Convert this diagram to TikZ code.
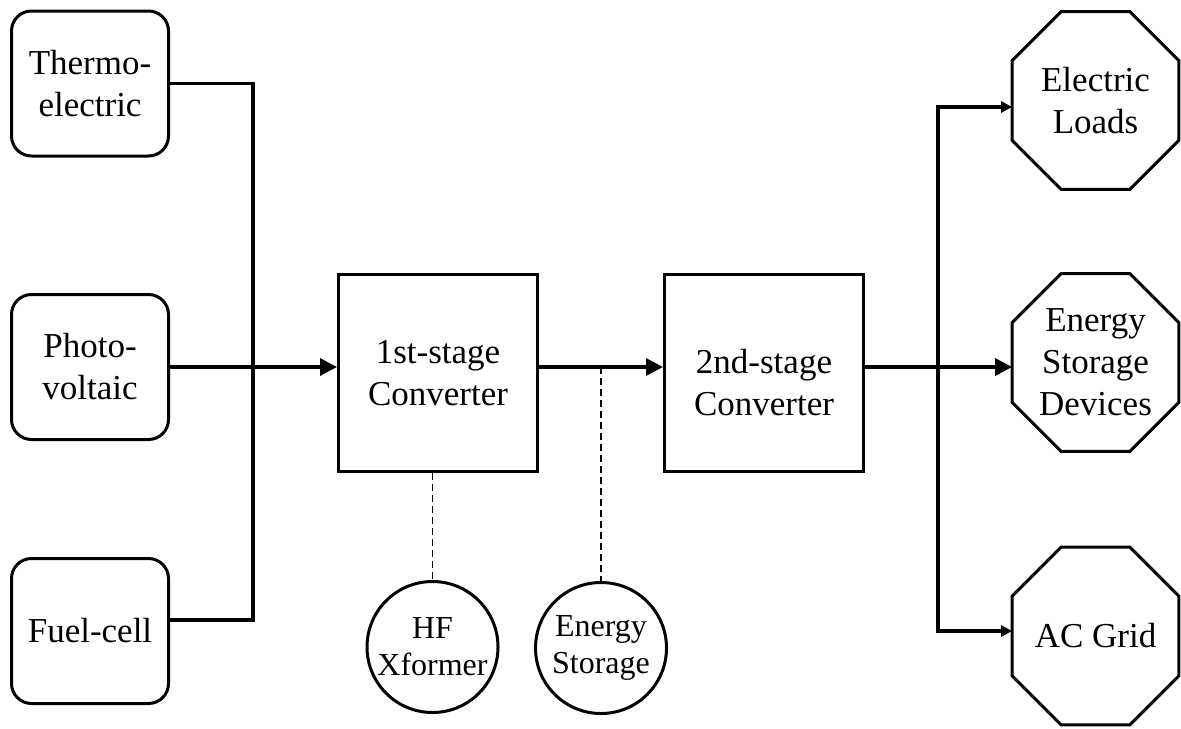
\documentclass[tikz,border=0pt]{standalone}
\usepackage{fontspec}
\setmainfont{Liberation Serif}
\usetikzlibrary{arrows.meta}
\newcommand\drawocta[1]{%
  \draw[octline] ([xshift=24.5pt]#1.north west) -- ([xshift=-24.5pt]#1.north east)
    -- ([yshift=-24.5pt]#1.north east) -- ([yshift=24.5pt]#1.south east)
    -- ([xshift=-24.5pt]#1.south east) -- ([xshift=24.5pt]#1.south west)
    -- ([yshift=24.5pt]#1.south west) -- ([yshift=-24.5pt]#1.north west) -- cycle;}
\begin{document}
\begin{tikzpicture}[x=0.5pt,y=-0.5pt,
  bigfont/.style={font=\fontsize{17.5}{21}\selectfont},
  smallfont/.style={font=\fontsize{16}{18.5}\selectfont},
  src/.style={draw, line width=1.5pt, rounded corners=10pt, minimum width=78.5pt, minimum height=72.5pt, align=center, inner sep=0pt, bigfont},
  conv/.style={draw, line width=1.5pt, minimum width=99.5pt, minimum height=98.5pt, align=center, inner sep=0pt, bigfont},
  txt/.style={align=center, inner sep=0pt, bigfont},
  circ/.style={draw, circle, line width=1.5pt, minimum size=65.5pt, align=center, inner sep=0pt, smallfont},
  octa/.style={minimum width=83pt, minimum height=88.5pt, align=center, inner sep=0pt, bigfont},
  octline/.style={line width=1.5pt, line join=miter},
  wire/.style={line width=1.6pt},
  bigtip/.style={-{Triangle[length=8.5pt,width=8.5pt]}},
  dashwire/.style={line width=0.75pt, dash pattern=on 3.5pt off 2pt}
]
\useasboundingbox (0,0) rectangle (1181,728);
% sources
\node[src] (th) at (90,83.5) {Thermo-\\electric};
\node[src] (pv) at (90,367) {Photo-\\voltaic};
\node[src] (fc) at (90,631) {Fuel-cell};
% converters
\node[conv] (c1) at (438,373) {1st-stage\\Converter};
\node[conv] (c2) at (764,373) {};
\node[txt] (c2t) at ([yshift=-5pt]c2.center) {2nd-stage\\Converter};
% circles
\node[circ] (hf) at (432.5,647) {HF\\Xformer};
\node[circ] (es) at (601,648) {Energy\\Storage};
% octagons
\node[octa] (el) at (1095.5,100.5) {Electric\\Loads};
\node[octa] (esd) at (1095.5,362.5) {Energy\\Storage\\Devices};
\node[octa] (ac) at (1095.5,636) {AC Grid};
\drawocta{el}
\drawocta{esd}
\drawocta{ac}
% coordinates
\coordinate (busL) at (253,0);
\coordinate (busR) at (938,0);
\coordinate (fcout) at ([yshift=5.5pt]fc.east);
\coordinate (elin) at ([yshift=-3.25pt]el.west);
\coordinate (acin) at ([yshift=2.5pt]ac.west);
% left bus
\draw[wire, line join=miter] (th.east) -- (th.east -| busL) -- (busL |- fcout) -- (fcout);
\draw[wire, bigtip] (pv.east) -- (c1.west |- pv.east);
\draw[wire, bigtip] (c1.east |- pv.east) -- (c2.west |- pv.east);
\draw[wire, bigtip] (c2.east |- pv.east) -- (esd.west |- pv.east);
% right bus
\draw[wire, line join=miter, {Triangle[length=5.5pt,width=5.5pt]}-{Triangle[length=5.5pt,width=5.5pt]}]
  (elin) -- (busR |- elin) -- (busR |- acin) -- (acin);
% dashed
\draw[dashwire] (hf.north |- c1.south) -- (hf.north);
\draw[dashwire] (es.north |- pv.east) -- (es.north);
\end{tikzpicture}
\end{document}
